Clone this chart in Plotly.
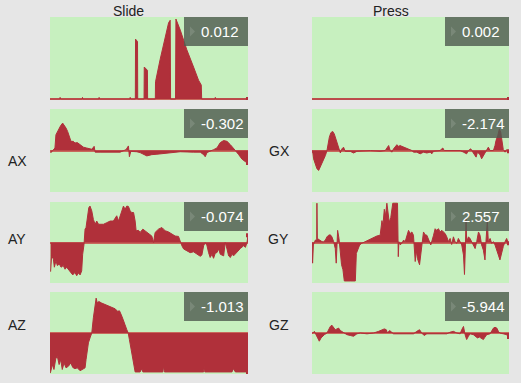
import plotly.graph_objects as go

# ---------------- data (time in % of window, values normalised) ----------------
slide_t = [0, 5.0, 5.1, 5.3, 16.3, 16.4, 16.6, 24.7, 24.8, 25.0, 40.4, 40.5, 40.7, 43.1, 43.2, 44.2, 44.3,
           47.5, 47.6, 49.2, 49.3, 53.2, 53.3, 55.6, 58.2, 59.9, 60.7, 60.9, 63.4, 63.6, 65.8, 69.1, 72.5,
           75.0, 76.4, 76.6, 83.4, 83.5, 83.7, 100]
slide_v = [0, 0, 0.02, 0, 0, 0.02, 0, 0, 0.02, 0, 0, 0.02, 0, 0, 0.73, 0.70, 0,
           0, 0.39, 0.35, 0, 0, 0.21, 0.48, 0.76, 0.93, 0.96, 0, 0, 0.975, 0.84, 0.60, 0.39,
           0.23, 0.17, 0, 0, 0.02, 0, 0]

press_t = [0, 25, 50, 75, 100]
press_v = [0, 0, 0, 0, 0]

ax_t = [0.3, 1.7, 2.5, 3.0, 4.2, 5.4, 6.4, 7.1, 8.1, 8.9, 9.8, 10.6, 11.8, 12.6, 13.8, 15.2, 16.9, 18.5,
        21.1, 22.3, 22.8, 25.3, 30.4, 35.4, 38.4, 39.6, 40.1, 40.8, 43.8, 45.5, 48.9, 51.4, 54.0, 57.3,
        60.7, 65.8, 72.5, 75.9, 77.6, 78.4, 79.3, 81.0, 82.6, 84.3, 86.0, 87.7, 89.4, 91.1, 92.7, 93.6,
        95.3, 97.0, 98.7, 99.8, 100]
ax_v = [-0.06, 0.02, 0.06, 0.38, 0.50, 0.60, 0.66, 0.62, 0.54, 0.46, 0.34, 0.22, 0.22, 0.18, 0.19, 0.14, 0.08, 0.06,
        0.03, 0.10, -0.04, -0.04, -0.04, -0.04, 0.02, 0.11, -0.15, -0.02, -0.03, -0.05, -0.13, -0.10, -0.09, -0.07,
        -0.05, -0.03, -0.04, -0.04, -0.10, -0.15, -0.05, -0.02, 0.02, 0.06, 0.19, 0.24, 0.22, 0.14, 0.03, 0.0,
        -0.10, -0.21, -0.27, -0.31, -0.30]

ay_t = [0.3, 0.8, 1.7, 2.2, 3.0, 3.7, 4.7, 5.6, 6.7, 7.6, 8.4, 10.1, 11.5, 12.6, 13.5, 14.3, 15.2, 16.0, 16.5,
        17.2, 17.7, 18.2, 18.9, 19.6, 20.2, 21.1, 21.9, 22.8, 23.6, 24.5, 25.3, 27.0, 28.7, 30.4, 32.0, 32.9,
        33.7, 34.6, 35.4, 36.3, 37.1, 37.9, 38.8, 39.6, 40.5, 41.3, 42.2, 43.0, 43.5, 44.7, 45.5, 46.9, 48.1,
        48.9, 50.6, 51.4, 52.3, 53.1, 54.8, 56.5, 57.3, 58.2, 59.9, 61.6, 63.2, 64.9, 65.8, 66.6, 67.5, 69.1,
        70.8, 72.5, 74.2, 75.9, 76.7, 77.6, 78.4, 79.3, 80.1, 80.9, 81.8, 82.6, 83.5, 84.3, 85.2, 86.0, 87.7,
        88.5, 89.4, 90.2, 91.1, 91.9, 92.7, 94.4, 96.1, 97.8, 98.7, 99.5, 99.8, 100]
ay_v = [-0.72, -0.33, -0.41, -0.61, -0.45, -0.57, -0.53, -0.61, -0.57, -0.66, -0.61, -0.70, -0.80, -0.74, -0.82,
        -0.75, -0.80, -0.70, -0.29, -0.04, 0.33, 0.37, 0.70, 0.86, 0.90, 0.78, 0.57, 0.45, 0.53, 0.45, 0.45, 0.45,
        0.49, 0.53, 0.53, 0.61, 0.66, 0.53, 0.66, 0.78, 0.90, 0.82, 0.90, 0.89, 0.78, 0.74, 0.74, 0.53, 0.29, 0.30,
        0.25, 0.33, 0.29, 0.26, 0.20, 0.16, 0.0, 0.25, 0.33, 0.37, 0.33, 0.29, 0.26, 0.20, 0.16, 0.15, 0.0, -0.08,
        -0.16, -0.20, -0.25, -0.23, -0.29, -0.34, -0.31, -0.08, 0.0, -0.08, -0.25, -0.37, -0.29, -0.39, -0.26,
        -0.25, -0.16, -0.29, -0.33, 0.0, -0.16, -0.33, -0.37, -0.29, -0.33, -0.23, -0.15, -0.08, -0.12, 0.0, 0.18,
        0.18]

az_t = [0.0, 0.3, 1.2, 2.0, 2.9, 3.7, 4.6, 5.4, 6.2, 7.1, 8.1, 9.3, 10.5, 11.5, 12.6, 13.8, 15.2, 16.5, 17.7,
        18.2, 18.9, 19.4, 20.2, 21.1, 21.9, 22.8, 23.3, 23.9, 24.6, 26.1, 27.8, 29.5, 31.2, 32.9, 34.1, 35.1,
        36.3, 37.1, 37.9, 38.8, 39.5, 40.1, 40.8, 41.5, 42.2, 43.0, 45.5, 46.4, 46.9, 57.0, 57.3, 57.8, 77.6,
        77.9, 78.2, 91.9, 92.7, 93.6, 100]
az_v = [-0.98, -0.95, -0.77, -0.89, -0.63, -0.57, -0.77, -0.65, -0.89, -0.73, -0.85, -0.81, -0.73, -0.84, -0.87,
        -0.85, -0.92, -0.89, -0.85, -0.65, -0.37, -0.24, -0.12, 0.0, 0.37, 0.73, 0.85, 0.73, 0.77, 0.73, 0.69,
        0.67, 0.63, 0.59, 0.53, 0.54, 0.41, 0.28, 0.20, 0.08, 0.0, -0.16, -0.37, -0.53, -0.73, -0.95, -0.95,
        -0.87, -0.95, -0.95, -0.81, -0.95, -0.95, -0.81, -0.95, -0.95, -0.87, -0.95, -0.95]

gx_t = [0, 0.5, 0.8, 1.7, 2.5, 3.4, 4.2, 5.6, 6.8, 7.6, 8.1, 8.8, 9.6, 10.5, 11.3, 12.3, 13.0, 13.7, 14.4, 15.2,
        16.0, 16.9, 19.4, 21.1, 22.8, 29.6, 34.6, 37.2, 38.9, 39.7, 40.5, 41.4, 42.2, 43.1, 43.9, 44.8, 45.6,
        46.5, 48.1, 50.7, 51.5, 53.2, 54.9, 56.6, 58.3, 60.0, 60.8, 61.7, 65.0, 66.4, 67.1, 75.2, 76.9, 78.5,
        79.4, 80.6, 81.9, 83.3, 84.0, 85.3, 86.1, 87.0, 87.8, 88.7, 89.5, 90.4, 92.1, 92.9, 93.4, 94.3, 95.1,
        95.8, 96.5, 97.1, 98.0, 98.8, 99.7, 100]
gx_v = [0, -0.08, -0.20, -0.32, -0.44, -0.48, -0.40, -0.24, -0.12, 0.0, 0.16, 0.32, 0.43, 0.46, 0.40, 0.24, 0.12,
        0.0, -0.06, 0.04, 0.08, -0.02, -0.02, -0.06, -0.02, 0.0, -0.02, 0.0, 0.12, 0.0, -0.04, 0.04, 0.10, 0.14,
        0.10, 0.12, 0.10, 0.08, 0.04, 0.0, -0.04, -0.04, -0.08, -0.04, -0.06, -0.04, -0.08, -0.02, 0.0, 0.06,
        0.0, 0.0, -0.04, -0.08, 0.0, 0.04, -0.06, -0.16, -0.04, -0.10, -0.20, -0.12, -0.06, 0.0, 0.08, 0.0, 0.0,
        0.12, 0.24, 0.36, 0.52, 0.44, 0.24, 0.02, -0.04, 0.02, -0.02, -0.02]

gy_t = [0, 0.3, 0.7, 1.7, 2.4, 2.5, 2.7, 3.9, 5.1, 5.9, 6.8, 7.6, 8.4, 9.3, 10.1, 11.0, 11.8, 12.3, 13.0, 13.7,
        14.4, 15.0, 15.7, 16.4, 19.4, 22.0, 22.5, 23.1, 24.2, 25.3, 27.0, 27.9, 29.6, 31.3, 32.9, 34.6, 35.5,
        36.0, 36.7, 37.3, 38.0, 38.5, 39.2, 40.0, 41.0, 43.4, 43.8, 44.1, 44.8, 45.6, 46.5, 47.3, 48.1, 49.0,
        49.8, 50.7, 51.5, 52.4, 52.9, 53.5, 54.6, 55.2, 55.9, 56.6, 57.4, 58.3, 59.1, 60.3, 61.7, 62.5, 63.3,
        64.2, 65.0, 65.9, 66.7, 67.6, 68.4, 69.3, 70.1, 70.9, 71.8, 72.6, 73.5, 74.3, 75.2, 76.0, 76.9, 77.4,
        77.9, 78.2, 78.5, 79.4, 80.2, 81.1, 81.9, 82.8, 83.6, 84.5, 85.3, 86.1, 87.0, 87.8, 88.3, 89.0, 89.5,
        90.4, 91.2, 92.1, 92.9, 93.8, 94.6, 95.4, 96.3, 97.1, 98.0, 98.8, 99.7, 100]
gy_v = [0, -0.51, -0.06, 0.06, 0.06, 0.97, 0.10, 0.06, 0.02, 0.02, 0.06, 0.14, 0.18, 0.19, 0.14, 0.02, -0.15,
        -0.51, 0.30, 0.10, -0.27, -0.55, -0.67, -0.95, -0.95, -0.95, -0.27, -0.19, -0.06, -0.02, 0.02, 0.06,
        0.10, 0.14, 0.16, 0.18, 0.54, 0.42, 0.82, 0.66, 0.97, 0.78, 0.50, 0.62, 0.97, 0.97, -0.35, 0.02, -0.06,
        -0.02, 0.06, 0.02, 0.14, 0.30, 0.22, 0.26, 0.18, -0.47, -0.19, -0.39, -0.55, -0.23, -0.02, 0.26, 0.19,
        0.18, 0.06, -0.06, 0.18, 0.34, 0.30, 0.34, 0.26, 0.30, 0.26, 0.22, 0.14, 0.02, 0.10, -0.05, 0.14, 0.02,
        -0.02, 0.10, 0.02, -0.06, -0.31, -0.79, -0.06, 0.58, 0.02, 0.14, 0.10, 0.02, -0.06, -0.15, 0.02, 0.26,
        0.18, -0.06, -0.19, -0.43, 0.02, 0.54, 0.02, 0.10, -0.02, 0.02, -0.06, -0.23, -0.31, -0.43, -0.23,
        -0.10, 0.02, 0.10, -0.02, -0.02]

gz_t = [0, 0.5, 1.2, 2.0, 2.9, 3.7, 4.6, 5.4, 6.3, 7.6, 8.4, 9.3, 10.1, 11.0, 11.8, 12.7, 13.5, 14.4, 15.2, 16.0,
        17.7, 19.4, 21.1, 22.8, 24.5, 27.9, 31.3, 33.8, 35.5, 36.7, 37.7, 38.3, 39.4, 40.0, 41.4, 48.1, 51.5,
        53.2, 54.6, 55.7, 56.9, 58.3, 65.0, 68.4, 70.1, 71.8, 73.5, 75.2, 76.0, 76.9, 77.7, 78.5, 79.4, 80.2,
        81.9, 83.3, 84.0, 85.0, 86.1, 87.0, 87.8, 88.7, 90.4, 91.2, 92.1, 92.9, 93.8, 94.6, 95.4, 97.1, 98.8,
        99.7, 100]
gz_v = [0, 0, 0.04, -0.04, -0.12, -0.20, -0.12, -0.08, -0.04, 0.0, 0.08, 0.16, 0.19, 0.14, 0.08, 0.10, 0.12, 0.06,
        0.04, 0.0, -0.04, -0.06, -0.08, -0.02, 0.0, -0.02, 0.0, 0.04, 0.08, 0.10, 0.08, 0.0, 0.06, 0.04, -0.02,
        -0.02, -0.02, 0.04, 0.08, 0.0, -0.06, -0.02, -0.01, -0.02, 0.02, 0.04, 0.0, -0.02, 0.08, 0.16, -0.04,
        -0.16, -0.08, -0.02, -0.04, -0.08, -0.12, -0.10, -0.14, -0.16, -0.10, -0.04, -0.02, 0.06, 0.12, 0.14,
        0.12, 0.04, 0.0, -0.02, -0.04, -0.10, -0.10]

column_titles = ["Slide", "Press"]
row_labels_left = ["", "AX", "AY", "AZ"]
row_labels_right = ["", "GX", "GY", "GZ"]
value_labels_left = ["0.012", "-0.302", "-0.074", "-1.013"]
value_labels_right = ["0.002", "-2.174", "2.557", "-5.944"]

# ---------------- styling / layout ----------------
W, H = 521, 383
BG = "#e6e6e6"
PANEL = "#c7f0bf"
RED = "rgb(176,48,58)"
ZERO = "rgb(200,105,92)"
FONT = "Liberation Sans, Arial, Helvetica, sans-serif"

col_px = [(50, 248), (312, 509)]
row_px = [(17, 100), (109, 192), (202, 283), (292, 374)]
label_pos_left = [None, (17, 161), (17, 239), (17, 325)]
label_pos_right = [None, (279, 151), (278, 239), (279, 325)]

def xd(px):
    return px / W

def yd(py):
    return 1 - py / H

series = {
    (0, 0): (slide_t, slide_v), (0, 1): (press_t, press_v),
    (1, 0): (ax_t, ax_v), (1, 1): (gx_t, gx_v),
    (2, 0): (ay_t, ay_v), (2, 1): (gy_t, gy_v),
    (3, 0): (az_t, az_v), (3, 1): (gz_t, gz_v),
}

fig = go.Figure()
layout = dict(
    width=W, height=H, margin=dict(l=0, r=0, t=0, b=0),
    paper_bgcolor=BG, plot_bgcolor=PANEL, showlegend=False,
    font=dict(family=FONT, color="#222"),
)
shapes, annotations = [], []

i = 0
for r in range(4):
    for c in range(2):
        i += 1
        t, v = series[(r, c)]
        xa, ya = ("x" if i == 1 else f"x{i}"), ("y" if i == 1 else f"y{i}")
        fig.add_trace(go.Scatter(x=t, y=v, mode="lines", fill="tozeroy", fillcolor=RED,
                                 line=dict(color=RED, width=1), xaxis=xa, yaxis=ya, hoverinfo="skip"))
        fig.add_trace(go.Scatter(x=[t[-1]], y=[v[-1]], mode="markers",
                                 marker=dict(color=RED, size=4, symbol="square"),
                                 xaxis=xa, yaxis=ya, hoverinfo="skip"))
        x0, x1 = xd(col_px[c][0]), xd(col_px[c][1])
        y0, y1 = yd(row_px[r][1]), yd(row_px[r][0])
        yrange = [-0.012, 1.0] if r == 0 else [-1.0, 1.0]
        layout["xaxis" if i == 1 else f"xaxis{i}"] = dict(
            domain=[x0, x1], range=[0, 100], showgrid=False, zeroline=False,
            showticklabels=False, ticks="", anchor=ya, fixedrange=True)
        layout["yaxis" if i == 1 else f"yaxis{i}"] = dict(
            domain=[y0, y1], range=yrange, showgrid=False, zeroline=True,
            zerolinecolor=ZERO, zerolinewidth=1.5,
            showticklabels=False, ticks="", anchor=xa, fixedrange=True)

        # value box (semi-transparent) at top-right of the panel
        bx1 = x1
        bx0 = x1 - 64 / W
        by1 = y1
        by0 = y1 - 29 / H
        shapes.append(dict(type="rect", xref="paper", yref="paper", x0=bx0, x1=bx1, y0=by0, y1=by1,
                           fillcolor="rgba(80,92,80,0.82)", line=dict(width=0), layer="above"))
        ax0 = bx0 + 6 / W
        ym = (by0 + by1) / 2
        shapes.append(dict(type="path", xref="paper", yref="paper",
                           path=f"M {ax0},{ym + 5 / H} L {ax0 + 5 / W},{ym} L {ax0},{ym - 5 / H} Z",
                           fillcolor="rgba(255,255,255,0.13)", line=dict(width=0), layer="above"))
        val = value_labels_left[r] if c == 0 else value_labels_right[r]
        annotations.append(dict(text=val, xref="paper", yref="paper", x=bx0 + 15 / W, y=ym,
                                xanchor="left", yanchor="middle", showarrow=False,
                                font=dict(size=15, color="white", family=FONT)))

        lab = row_labels_left[r] if c == 0 else row_labels_right[r]
        pos = label_pos_left[r] if c == 0 else label_pos_right[r]
        if lab:
            annotations.append(dict(text=lab, xref="paper", yref="paper", x=xd(pos[0]), y=yd(pos[1]),
                                    xanchor="center", yanchor="middle", showarrow=False,
                                    font=dict(size=14, color="#222", family=FONT)))

title_px = [(128, 11), (391, 11)]
for k, name in enumerate(column_titles):
    annotations.append(dict(text=name, xref="paper", yref="paper", x=xd(title_px[k][0]), y=yd(title_px[k][1]),
                            xanchor="center", yanchor="middle", showarrow=False,
                            font=dict(size=14, color="#222", family=FONT)))

layout["shapes"] = shapes
layout["annotations"] = annotations
fig.update_layout(**layout)
fig.write_html("out.html", config={"displayModeBar": False},
               post_script="document.body.style.margin='0';document.body.style.overflow='hidden';")
